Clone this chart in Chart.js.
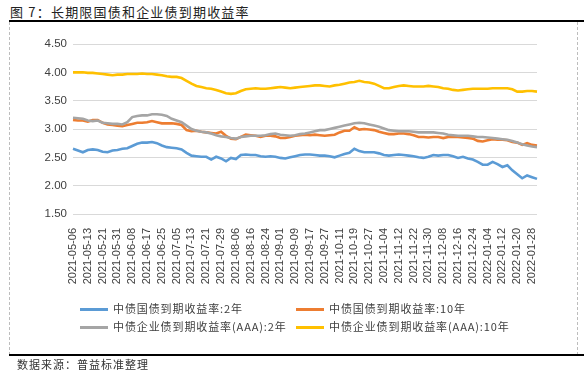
<!DOCTYPE html>
<html>
<head>
<meta charset="utf-8">
<script src="https://cdn.jsdelivr.net/npm/chart.js@4.4.0/dist/chart.umd.min.js"></script>
<style>
    body { margin: 0; background: #fff; }
    #wrap { position: relative; width: 584px; height: 375px; overflow: hidden; font-family: "Noto Sans CJK SC", sans-serif; }
    #chart { position: absolute; left: 0; top: 0; }
    .title { position: absolute; left: 10px; top: 2px; font-size: 13px; letter-spacing: 1.2px; color: #222; }
    .source { position: absolute; left: 17px; top: 356px; font-size: 11px; letter-spacing: 1px; color: #333; }
    .hline { position: absolute; left: 9px; right: 0; height: 0; border-top: 2px solid #000; }
    .vline { position: absolute; top: 22px; height: 333px; width: 0; border-left: 1px dashed #bdbdbd; }
    .leg { position: absolute; font-size: 11px; letter-spacing: 0.9px; color: #404040; white-space: nowrap; line-height: 14px; }
    .leg i { display: inline-block; width: 28px; height: 3px; vertical-align: middle; margin-right: 5px; margin-top: -2px; }
</style>
</head>
<body>
<div id="wrap">
    <div class="title">图 7：长期限国债和企业债到期收益率</div>
    <div class="hline" style="top:20px"></div>
    <div class="vline" style="left:9px"></div>
    <div class="vline" style="left:577px"></div>
    <canvas id="chart" width="584" height="375"></canvas>
    <div id="legend"></div>
    <div class="hline" style="top:354px"></div>
    <div class="source">数据来源：普益标准整理</div>
</div>
<script>
// x axis tick labels (one every 3 points)
var tickLabels = ['2021-05-06', '2021-05-13', '2021-05-21', '2021-05-31', '2021-06-08', '2021-06-17', '2021-06-25',
    '2021-07-05', '2021-07-13', '2021-07-21', '2021-07-29', '2021-08-06', '2021-08-16', '2021-08-24', '2021-09-01',
    '2021-09-09', '2021-09-17', '2021-09-27', '2021-10-11', '2021-10-19', '2021-10-27', '2021-11-04', '2021-11-12',
    '2021-11-22', '2021-11-30', '2021-12-08', '2021-12-16', '2021-12-24', '2022-01-04', '2022-01-12', '2022-01-20',
    '2022-01-28'];

var seriesNames = ['中债国债到期收益率:2年', '中债国债到期收益率:10年', '中债企业债到期收益率(AAA):2年', '中债企业债到期收益率(AAA):10年'];
var seriesColors = ['#5B9BD5', '#ED7D31', '#A5A5A5', '#FFC000'];

var gov2 = [2.65, 2.62, 2.59, 2.63, 2.64, 2.63, 2.60, 2.59, 2.62, 2.63, 2.65, 2.66, 2.70, 2.74, 2.76, 2.76, 2.77, 2.75, 2.71, 2.68, 2.67, 2.66, 2.64, 2.58,
    2.53, 2.52, 2.51, 2.51, 2.46, 2.51, 2.48, 2.43, 2.49, 2.47, 2.54, 2.55, 2.54, 2.54, 2.52, 2.51, 2.52, 2.51, 2.49, 2.48, 2.50, 2.52, 2.54, 2.55,
    2.55, 2.54, 2.53, 2.53, 2.52, 2.50, 2.53, 2.56, 2.58, 2.65, 2.61, 2.59, 2.59, 2.59, 2.57, 2.54, 2.53, 2.54, 2.55, 2.54, 2.53, 2.52, 2.50,
    2.49, 2.51, 2.54, 2.53, 2.54, 2.54, 2.52, 2.49, 2.51, 2.48, 2.46, 2.42, 2.37, 2.37, 2.42, 2.38, 2.33, 2.36, 2.27, 2.20, 2.13, 2.18, 2.15, 2.12];

var gov10 = [3.16, 3.15, 3.15, 3.13, 3.16, 3.16, 3.11, 3.08, 3.07, 3.06, 3.05, 3.07, 3.09, 3.11, 3.11, 3.12, 3.14, 3.12, 3.10, 3.10, 3.10, 3.09, 3.07, 2.98,
    2.96, 2.97, 2.95, 2.94, 2.93, 2.92, 2.95, 2.88, 2.83, 2.82, 2.86, 2.90, 2.89, 2.88, 2.86, 2.88, 2.88, 2.87, 2.84, 2.84, 2.86, 2.88, 2.89, 2.90,
    2.89, 2.90, 2.89, 2.88, 2.89, 2.90, 2.94, 2.97, 2.97, 3.03, 2.99, 3.00, 2.99, 2.98, 2.95, 2.93, 2.91, 2.91, 2.92, 2.92, 2.91, 2.89, 2.86,
    2.86, 2.85, 2.86, 2.86, 2.84, 2.86, 2.86, 2.86, 2.85, 2.84, 2.83, 2.79, 2.78, 2.80, 2.82, 2.81, 2.81, 2.80, 2.77, 2.76, 2.72, 2.75, 2.72, 2.71];

var aaa2 = [3.20, 3.19, 3.18, 3.15, 3.14, 3.15, 3.11, 3.10, 3.09, 3.09, 3.08, 3.12, 3.21, 3.23, 3.24, 3.24, 3.26, 3.26, 3.25, 3.23, 3.18, 3.15, 3.12, 3.06,
    3.00, 2.97, 2.95, 2.94, 2.92, 2.89, 2.87, 2.86, 2.84, 2.83, 2.86, 2.87, 2.88, 2.88, 2.88, 2.89, 2.91, 2.92, 2.90, 2.89, 2.88, 2.89, 2.91, 2.92,
    2.94, 2.96, 2.98, 2.98, 3.00, 3.02, 3.04, 3.06, 3.08, 3.10, 3.11, 3.10, 3.08, 3.06, 3.04, 3.01, 2.98, 2.97, 2.96, 2.96, 2.96, 2.95, 2.94,
    2.94, 2.94, 2.94, 2.93, 2.92, 2.90, 2.89, 2.88, 2.88, 2.88, 2.87, 2.86, 2.86, 2.85, 2.84, 2.83, 2.82, 2.81, 2.79, 2.76, 2.73, 2.71, 2.69, 2.68];

var aaa10 = [4.00, 4.00, 4.00, 3.99, 3.99, 3.98, 3.97, 3.96, 3.95, 3.96, 3.96, 3.97, 3.97, 3.97, 3.98, 3.97, 3.97, 3.96, 3.95, 3.93, 3.92, 3.92, 3.90, 3.85,
    3.80, 3.76, 3.74, 3.72, 3.71, 3.69, 3.66, 3.63, 3.62, 3.63, 3.67, 3.70, 3.71, 3.72, 3.71, 3.71, 3.72, 3.73, 3.74, 3.73, 3.72, 3.73, 3.74, 3.75,
    3.76, 3.77, 3.77, 3.76, 3.75, 3.77, 3.78, 3.80, 3.82, 3.83, 3.85, 3.83, 3.82, 3.80, 3.76, 3.72, 3.72, 3.74, 3.76, 3.77, 3.76, 3.75, 3.75,
    3.75, 3.76, 3.75, 3.74, 3.72, 3.71, 3.69, 3.68, 3.69, 3.70, 3.71, 3.71, 3.71, 3.71, 3.72, 3.72, 3.72, 3.72, 3.70, 3.66, 3.66, 3.67, 3.67, 3.66];

// category labels: tick label every 3rd point, blank otherwise
var labels = gov2.map(function (v, i) { return i % 3 === 0 ? (tickLabels[i / 3] || '') : ''; });

var allSeries = [gov2, gov10, aaa2, aaa10];

var chart = new Chart(document.getElementById('chart'), {
    type: 'line',
    data: {
        labels: labels,
        datasets: allSeries.map(function (d, i) {
            return {
                label: seriesNames[i],
                data: d,
                borderColor: seriesColors[i],
                backgroundColor: seriesColors[i],
                borderWidth: 2.6,
                pointRadius: 0,
                tension: 0,
                fill: false,
                order: 4 - i
            };
        })
    },
    options: {
        responsive: false,
        animation: false,
        layout: { padding: { left: 33, right: 47, top: 44, bottom: 91 } },
        plugins: { legend: { display: false }, tooltip: { enabled: false } },
        scales: {
            x: {
                grid: { display: false },
                border: { display: false },
                afterFit: function (s) { s.height = 70; },
                ticks: {
                    autoSkip: false,
                    minRotation: 90,
                    maxRotation: 90,
                    padding: 6,
                    color: '#404040',
                    font: { family: 'Liberation Sans', size: 11 }
                }
            },
            y: {
                min: 1.5,
                max: 4.5,
                afterFit: function (s) { s.width = 40; },
                border: { display: false },
                grid: { color: '#D9D9D9', lineWidth: 1, drawTicks: false },
                ticks: {
                    stepSize: 0.5,
                    padding: 6,
                    color: '#404040',
                    font: { family: 'Liberation Sans', size: 11.5 },
                    callback: function (v) { return v.toFixed(2); }
                }
            }
        }
    }
});

// legend, two columns
var legPos = [[80, 301], [296, 301], [80, 319], [296, 319]];
var legHtml = '';
seriesNames.forEach(function (name, i) {
    legHtml += '<div class="leg" style="left:' + legPos[i][0] + 'px;top:' + legPos[i][1] + 'px"><i style="background:' +
        seriesColors[i] + '"></i>' + name + '</div>';
});
document.getElementById('legend').innerHTML = legHtml;
</script>
</body>
</html>
